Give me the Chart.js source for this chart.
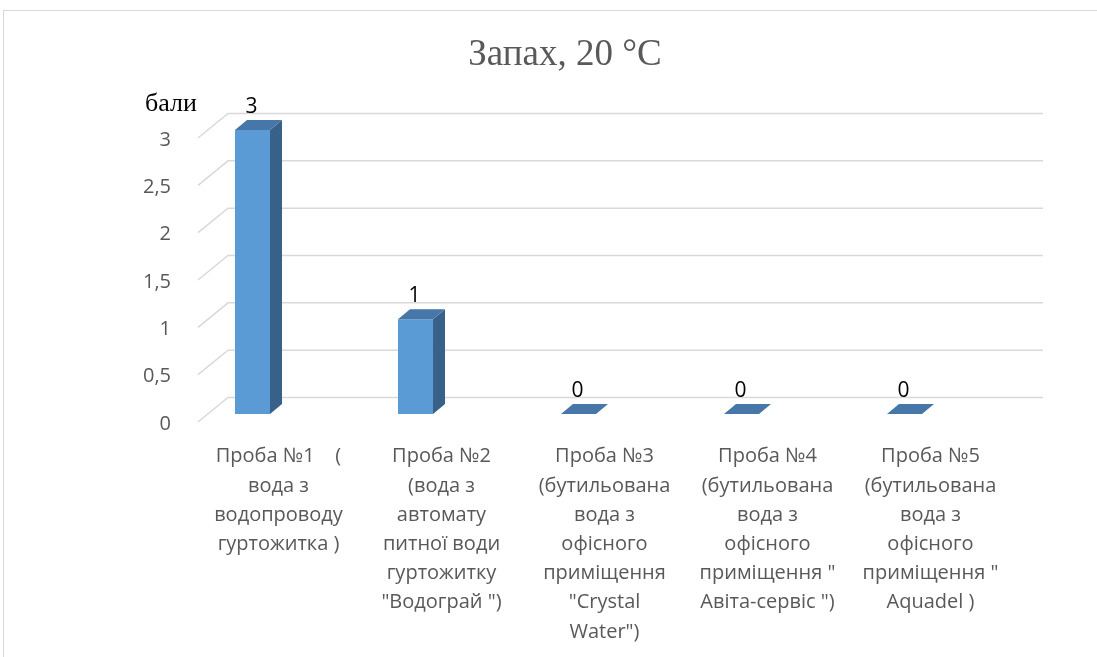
<!DOCTYPE html>
<html lang="uk">
<head>
<meta charset="utf-8">
<title>Запах, 20 °C</title>
<script src="https://cdn.jsdelivr.net/npm/chart.js@4.4.1/dist/chart.umd.min.js"></script>
<style>
  body { margin: 0; background: #fff; }
  #frame { position: absolute; left: 3px; top: 10px; width: 1110px; height: 670px; border: 1px solid #d9d9d9; box-sizing: border-box; }
  #chart { position: absolute; left: 0; top: 0; }
</style>
</head>
<body>
<div id="frame"></div>
<canvas id="chart" width="1097" height="657"></canvas>
<script>
const categories = [
    ['Проба №1    (', 'вода з', 'водопроводу', 'гуртожитка )'],
    ['Проба №2', '(вода з', 'автомату', 'питної води', 'гуртожитку', '"Водограй ")'],
    ['Проба №3', '(бутильована', 'вода з', 'офісного', 'приміщення', '"Crystal', 'Water")'],
    ['Проба №4', '(бутильована', 'вода з', 'офісного', 'приміщення "', 'Авіта-сервіс ")'],
    ['Проба №5', '(бутильована', 'вода з', 'офісного', 'приміщення "', 'Aquadel )']
];
const scores = [3, 1, 0, 0, 0];
const yTicks = [0, 0.5, 1, 1.5, 2, 2.5, 3];
const yTickLabels = ['0', '0,5', '1', '1,5', '2', '2,5', '3'];

const FRONT = '#5b9bd5';
const TOP = '#4677a8';
const SIDE = '#386189';
const GRID = '#d9d9d9';
const TEXT = '#595959';

// bar depth (pseudo 3d)
const DX = 12, DY = -10;

const wallPlugin = {
    id: 'wall',
    beforeDatasetsDraw(chart) {
        const ctx = chart.ctx;
        const area = chart.chartArea;
        const y = chart.scales.y;
        ctx.save();
        ctx.strokeStyle = GRID;
        ctx.lineWidth = 1.5;
        yTicks.forEach(v => {
            const py = y.getPixelForValue(v);
            ctx.beginPath();
            ctx.moveTo(area.left + 27, py + 8);
            ctx.lineTo(area.left + 57, py - 16.5);
            ctx.lineTo(area.right + 57, py - 16.5);
            ctx.stroke();
        });
        ctx.restore();
    },
    afterDatasetsDraw(chart) {
        const ctx = chart.ctx;
        const meta = chart.getDatasetMeta(0);
        ctx.save();
        meta.data.forEach((bar, i) => {
            const half = bar.width / 2;
            const l = bar.x - half, r = bar.x + half;
            // side face
            if (bar.base - bar.y > 0) {
                ctx.fillStyle = SIDE;
                ctx.beginPath();
                ctx.moveTo(r, bar.y);
                ctx.lineTo(r + DX, bar.y + DY);
                ctx.lineTo(r + DX, bar.base + DY);
                ctx.lineTo(r, bar.base);
                ctx.closePath();
                ctx.fill();
            }
            // top face
            ctx.fillStyle = TOP;
            ctx.beginPath();
            ctx.moveTo(l, bar.y);
            ctx.lineTo(l + DX, bar.y + DY);
            ctx.lineTo(r + DX, bar.y + DY);
            ctx.lineTo(r, bar.y);
            ctx.closePath();
            ctx.fill();

            // value label
            ctx.fillStyle = '#000';
            ctx.font = '21px "Open Sans"';
            ctx.textAlign = 'center';
            ctx.textBaseline = 'middle';
            ctx.fillText(String(scores[i]), bar.x - 1, bar.y - 23);
        });

        // title and unit
        ctx.fillStyle = TEXT;
        ctx.font = '37px "Liberation Serif"';
        ctx.textAlign = 'center';
        ctx.textBaseline = 'middle';
        ctx.fillText('Запах, 20 °C', 565, 55);

        ctx.fillStyle = '#000';
        ctx.font = '26px "Liberation Serif"';
        ctx.textAlign = 'left';
        ctx.fillText('бали', 145, 104);
        ctx.restore();
    }
};

new Chart(document.getElementById('chart'), {
    type: 'bar',
    data: {
        labels: categories,
        datasets: [{
            data: scores,
            backgroundColor: FRONT,
            borderWidth: 0,
            categoryPercentage: 1,
            barPercentage: 0.215
        }]
    },
    options: {
        responsive: false,
        animation: false,
        devicePixelRatio: 1,
        layout: { padding: { top: 130, right: 111, bottom: 0, left: 0 } },
        plugins: {
            legend: { display: false },
            tooltip: { enabled: false }
        },
        scales: {
            x: {
                grid: { display: false, drawTicks: false },
                border: { display: false },
                afterFit: axis => { axis.height = 243; },
                ticks: {
                    color: TEXT,
                    font: { family: '"Open Sans"', size: 20, lineHeight: '29.2px' },
                    padding: 28,
                    labelOffset: 26,
                    maxRotation: 0,
                    autoSkip: false
                }
            },
            y: {
                min: 0,
                max: 3,
                grid: { display: false, drawTicks: false },
                border: { display: false },
                afterFit: axis => { axis.width = 171; },
                afterBuildTicks: axis => { axis.ticks = yTicks.map(v => ({ value: v })); },
                ticks: {
                    color: TEXT,
                    font: { family: '"Open Sans"', size: 20 },
                    padding: 0,
                    labelOffset: 10,
                    callback: (value, index) => yTickLabels[index]
                }
            }
        }
    },
    plugins: [wallPlugin]
});
</script>
</body>
</html>
